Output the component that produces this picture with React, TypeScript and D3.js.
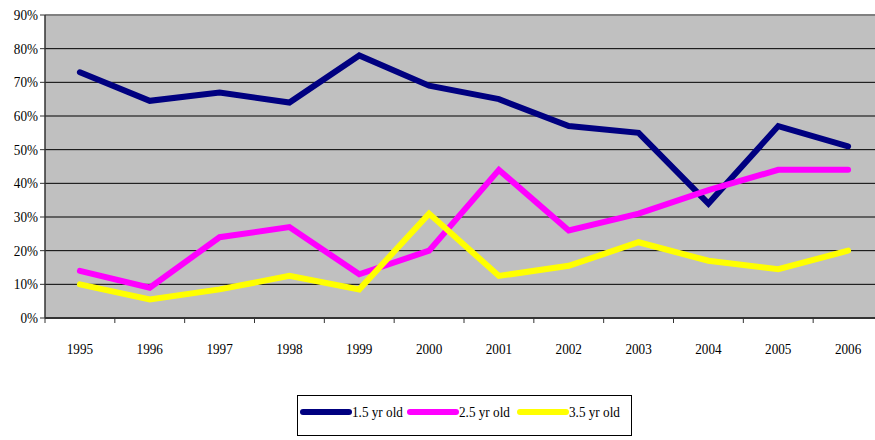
import React from 'react';
import * as d3 from 'd3';

const years = ['1995', '1996', '1997', '1998', '1999', '2000', '2001', '2002', '2003', '2004', '2005', '2006'];
const age15 = [73, 64.5, 67, 64, 78, 69, 65, 57, 55, 34, 57, 51];
const age25 = [14, 9, 24, 27, 13, 20, 44, 26, 31, 38, 44, 44];
const age35 = [10, 5.5, 8.5, 12.5, 8.5, 31, 12.5, 15.5, 22.5, 17, 14.5, 20];
const yTicks = [0, 10, 20, 30, 40, 50, 60, 70, 80, 90];
const seriesNames = ['1.5 yr old', '2.5 yr old', '3.5 yr old'];
const seriesColors = ['#000080', '#FF00FF', '#FFFF00'];

export default function App() {
  const left = 45, right = 883, top = 15, bottom = 318;
  const font = 'Liberation Serif';

  const x = d3.scaleBand().domain(years).range([left, right]);
  const y = d3.scaleLinear().domain([0, 90]).range([bottom, top]);

  const line = d3.line<number>()
    .x((d, i) => x(years[i])! + x.bandwidth() / 2)
    .y(d => y(d));

  const series = [age15, age25, age35];

  const legendX = [303, 410, 520];

  // squeeze text a little horizontally, like the original
  const sq = (cx: number) => `translate(${cx},0) scale(0.88,1) translate(${-cx},0)`;

  return (
    <div style={{ position: 'absolute', left: 0, top: 0 }}>
      <svg width={875} height={440} style={{ display: 'block', fontFamily: font }}>
        <rect x={0} y={0} width={875} height={440} fill="white" />
        <rect x={left} y={top} width={right - left} height={bottom - top} fill="#C0C0C0" />
        {yTicks.slice(1).map(t => (
          <line key={t} x1={left} x2={right} y1={y(t)} y2={y(t)}
            stroke={t === 90 ? '#808080' : '#000'} strokeWidth={t === 90 ? 2 : 1} />
        ))}
        {/* axes */}
        <line x1={left} x2={left} y1={top} y2={bottom} stroke="#333" strokeWidth={1.5} />
        <line x1={left} x2={right} y1={bottom} y2={bottom} stroke="#333" strokeWidth={2} />
        {yTicks.map(t => (
          <g key={t}>
            <line x1={left - 5} x2={left} y1={y(t)} y2={y(t)} stroke="#333" strokeWidth={1} />
            <text x={38} y={y(t) + 5} transform={sq(38)} textAnchor="end" fontFamily={font} fontSize={15} fill="#000">{t}%</text>
          </g>
        ))}
        {years.map((yr, i) => {
          const cx = x(yr)! + x.bandwidth() / 2;
          return (
            <g key={yr}>
              <line x1={x(yr)!} x2={x(yr)!} y1={bottom} y2={bottom + 5} stroke="#333" strokeWidth={1} />
              <text x={cx} y={354} transform={sq(cx)} textAnchor="middle" fontFamily={font} fontSize={15} fill="#000">{yr}</text>
            </g>
          );
        })}
        {series.map((s, i) => (
          <path key={i} d={line(s)!} fill="none" stroke={seriesColors[i]} strokeWidth={6} strokeLinejoin="miter" strokeLinecap="round" />
        ))}
        {/* legend */}
        <rect x={297.5} y={395.5} width={334} height={40} fill="white" stroke="#000" strokeWidth={1} />
        {seriesNames.map((n, i) => (
          <g key={n}>
            <line x1={legendX[i]} x2={legendX[i] + 46} y1={412} y2={412} stroke={seriesColors[i]} strokeWidth={6} strokeLinecap="round" />
            <text x={legendX[i] + 49} y={417} transform={sq(legendX[i] + 49)} fontFamily={font} fontSize={15} fill="#000">{n}</text>
          </g>
        ))}
      </svg>
    </div>
  );
}
